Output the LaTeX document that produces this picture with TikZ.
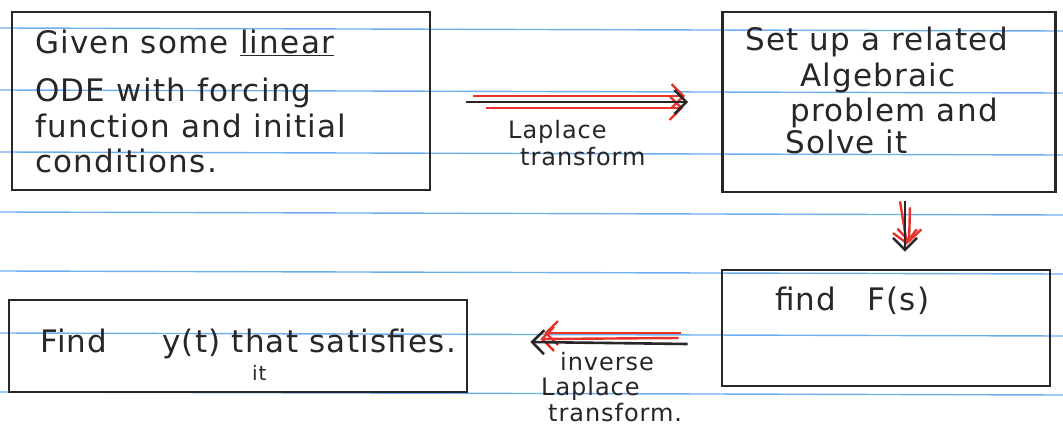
\documentclass[tikz,border=0pt]{standalone}
\usepackage{fontspec}
\setmainfont{DejaVu Sans}[LetterSpace=4]
\usetikzlibrary{arrows.meta,calc}
\definecolor{ruleblue}{RGB}{110,175,240}
\definecolor{ink}{RGB}{40,38,38}
\definecolor{redink}{RGB}{230,50,40}
\tikzset{
  box/.style={draw=ink, line width=2.6pt, rectangle, inner sep=0pt},
  txt/.style={anchor=base west, inner sep=0pt, text=ink, font=\fontsize{31}{34}\selectfont},
  small/.style={anchor=base west, inner sep=0pt, text=ink, font=\fontsize{24}{26}\selectfont},
  tiny/.style={anchor=base west, inner sep=0pt, text=ink, font=\fontsize{20}{22}\selectfont},
  rule/.style={draw=ruleblue, line width=1.4pt},
  blackarr/.style={draw=ink, line width=2.6pt, -{Straight Barb[length=12pt,width=24pt,line width=2.6pt]}},
  redarr/.style={draw=redink, line width=2.4pt, -{Straight Barb[length=12pt,width=24pt,line width=2.4pt]}}
}
\begin{document}
\begin{tikzpicture}[x=1pt,y=-1pt]
\useasboundingbox (0,0) rectangle (1063,431);
\fill[white] (0,0) rectangle (1063,431);
% ruled paper
\foreach \y in {28,90,152,212,271,333,392}
  \draw[rule] (0,\y) -- (1063,\y+3);
% boxes
\node[box, minimum width=418pt, minimum height=178pt] (b1) at (221,101) {};
\node[box, minimum width=333pt, minimum height=180pt] (b2) at (889,102) {};
\node[box, minimum width=328pt, minimum height=116pt] (b3) at (886,328) {};
\node[box, minimum width=458pt, minimum height=92pt] (b4) at (238,346) {};
% box 1 text
\node[txt] (t1a) at (35,53) {Given some \underline{linear}};
\node[txt] (t1b) at (35,101) {ODE with forcing};
\node[txt] (t1c) at (35,137) {function and initial};
\node[txt] (t1d) at (35,172) {conditions.};
% box 2 text
\node[txt] (t2a) at (745,50) {Set up a related};
\node[txt] (t2b) at (800,86) {Algebraic};
\node[txt] (t2c) at (790,121) {problem and};
\node[txt] (t2d) at (785,153) {Solve it};
% box 3 text
\node[txt] (t3) at (775,310) {find\quad F(s)};
% box 4 text
\node[txt] (t4a) at (40,352) {Find};
\node[txt] (t4b) at (162,352) {y(t) that satisfies.};
\node[tiny] (t4c) at (252,380) {it};
% arrow 1: Laplace transform
\draw[redarr] ($(b1.east)+(42,-5)$) -- ($(b2.west)+(-36,-6)$);
\draw[redarr] ($(b1.east)+(55,7)$) -- ($(b2.west)+(-38,6)$);
\draw[blackarr] ($(b1.east)+(35,1)$) -- ($(b2.west)+(-33,0)$);
\node[small] (l1a) at (508,138) {Laplace};
\node[small] (l1b) at (520,165) {transform};
% arrow 2: down
\draw[redarr] ($(b2.south)+(11,8)$) -- ($(b3.north)+(21,-24)$);
\draw[redarr] ($(b2.south)+(21,14)$) -- ($(b3.north)+(23,-26)$);
\draw[blackarr] ($(b2.south)+(16,8)$) -- ($(b3.north)+(19,-17)$);
% arrow 3: inverse Laplace transform
\draw[redarr] ($(b3.west)+(-40,5)$) -- ($(b4.east)+(76,-13)$);
\draw[redarr] ($(b3.west)+(-42,10)$) -- ($(b4.east)+(72,-7)$);
\draw[blackarr] ($(b3.west)+(-33,16)$) -- ($(b4.east)+(62,-4)$);
\node[small] (l3a) at (560,370) {inverse};
\node[small] (l3b) at (541,395) {Laplace};
\node[small] (l3c) at (548,421) {transform.};
\end{tikzpicture}
\end{document}
